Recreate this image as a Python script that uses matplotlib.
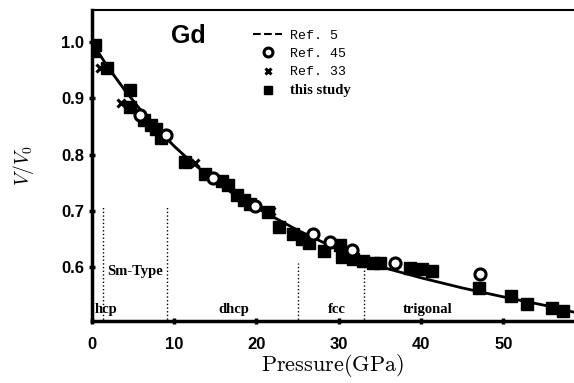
import matplotlib
matplotlib.use("Agg")
import matplotlib.pyplot as plt

# ── data ──────────────────────────────────────────────────────────────
study_p = [0.1, 0.4, 1.9, 4.6, 4.6, 6.4, 7.2, 7.8, 8.4, 11.3, 13.8, 15.8, 16.5,
           17.6, 18.5, 19.2, 21.4, 22.8, 24.4, 25.6, 26.4, 28.2, 30.1, 30.4,
           31.8, 33.0, 34.2, 35.0, 38.7, 40.1, 41.3, 47.0, 50.9, 52.9, 55.9, 57.3]
study_v = [0.985, 0.995, 0.955, 0.915, 0.885, 0.862, 0.853, 0.845, 0.830, 0.786,
           0.765, 0.752, 0.745, 0.728, 0.718, 0.712, 0.697, 0.670, 0.658, 0.650,
           0.643, 0.628, 0.638, 0.618, 0.613, 0.610, 0.606, 0.607, 0.597, 0.595,
           0.592, 0.561, 0.547, 0.534, 0.527, 0.520]

ref45_p = [5.8, 9.0, 14.7, 19.8, 26.9, 29.0, 31.6, 36.9, 47.2]
ref45_v = [0.870, 0.835, 0.759, 0.708, 0.658, 0.644, 0.629, 0.606, 0.586]

ref33_p = [1.0, 3.5, 12.5, 21.8]
ref33_v = [0.955, 0.892, 0.784, 0.700]

fit_p = [0, 2, 4, 6, 8, 10, 12, 15, 18, 20, 25, 30, 35, 40, 45, 50, 55, 58.5]
fit_v = [1.0, 0.955, 0.915, 0.878, 0.845, 0.815, 0.788, 0.752, 0.722, 0.705,
         0.665, 0.630, 0.600, 0.580, 0.562, 0.546, 0.531, 0.519]

ref5_p = [0, 2, 4, 6, 8, 10, 12]
ref5_v = [1.0, 0.955, 0.915, 0.878, 0.845, 0.815, 0.788]

# phase boundaries (GPa) and top of each dotted line
bound_p = [1.3, 9.1, 25.1, 33.1]
bound_top = [0.709, 0.709, 0.606, 0.610]

phase_names = ["hcp", "Sm-Type", "dhcp", "fcc", "trigonal"]
phase_p = [1.7, 5.2, 17.2, 29.8, 40.8]
phase_v = [0.523, 0.592, 0.523, 0.523, 0.523]

plt.rcParams["mathtext.fontset"] = "cm"

fig = plt.figure(figsize=(5.74, 3.83), dpi=100)
ax = fig.add_axes([0.160, 0.162, 0.840, 0.812])

ax.plot(fit_p, fit_v, "-", color="black", lw=2.0, zorder=2)
l5, = ax.plot(ref5_p, ref5_v, "--", color="black", lw=1.5, zorder=2, label="Ref. 5")
l45, = ax.plot(ref45_p, ref45_v, "o", ms=8, mfc="white", mec="black", mew=2.2,
               zorder=4, label="Ref. 45")
l33, = ax.plot(ref33_p, ref33_v, "x", ms=6, color="black", mew=2.2, zorder=3,
               label="Ref. 33")
lst, = ax.plot(study_p, study_v, "s", ms=8, color="black", zorder=3,
               label="this study")

for p, top in zip(bound_p, bound_top):
    ax.plot([p, p], [0.5, top], ":", color="black", lw=1.0)

for name, p, v in zip(phase_names, phase_p, phase_v):
    ax.text(p, v, name, ha="center", va="center", fontsize=10.5,
            family="Liberation Serif", weight="bold")

ax.text(11.7, 1.012, "Gd", ha="center", va="center", fontsize=18,
        family="Liberation Sans", weight="bold")

leg = ax.legend(handles=[l5, l45, l33, lst], loc="upper left",
                bbox_to_anchor=(0.31, 0.975), frameon=False,
                prop={"family": "Liberation Mono", "size": 9.5},
                handlelength=2.2, handletextpad=0.6, labelspacing=0.45,
                markerscale=0.8)
leg.get_texts()[3].set_fontproperties(
    matplotlib.font_manager.FontProperties(family="Liberation Serif",
                                           weight="bold", size=10.5))

ax.set_xlim(0, 58.6)
ax.set_ylim(0.503, 1.058)
ax.set_xticks([0, 10, 20, 30, 40, 50])
ax.set_yticks([0.6, 0.7, 0.8, 0.9, 1.0])
ax.set_yticklabels(["0.6", "0.7", "0.8", "0.9", "1.0"])
for lab in ax.get_xticklabels() + ax.get_yticklabels():
    lab.set_fontfamily("Liberation Sans")
    lab.set_fontweight("bold")
    lab.set_fontsize(12)
ax.tick_params(direction="inout", length=5, width=2.5, pad=9)
ax.tick_params(axis="y", pad=3)

ax.spines["right"].set_visible(False)
ax.spines["left"].set_linewidth(2.5)
ax.spines["bottom"].set_linewidth(2.5)
ax.spines["top"].set_linewidth(1.5)

ax.set_xlabel(r"$\mathrm{Pressure(GPa)}$", fontsize=16, labelpad=0)
ax.set_ylabel(r"$V/V_0$", fontsize=14, labelpad=18)

fig.savefig("out.png", dpi=100)
